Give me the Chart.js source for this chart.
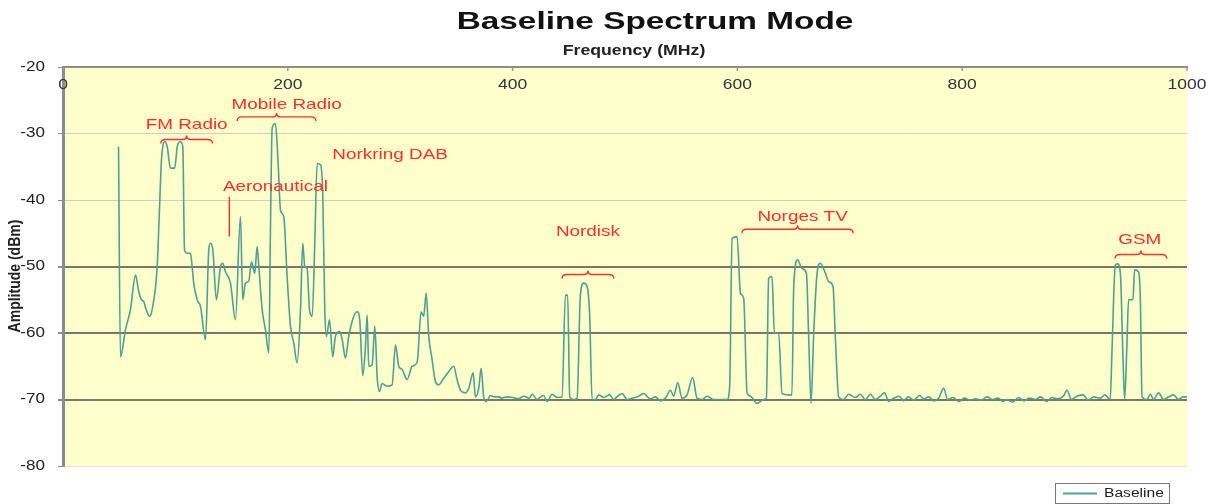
<!DOCTYPE html>
<html>
<head>
<meta charset="utf-8">
<title>Baseline Spectrum Mode</title>
<script src="https://cdn.jsdelivr.net/npm/chart.js@4.4.1/dist/chart.umd.min.js"></script>
<style>
  html, body { margin: 0; padding: 0; background: #fff; }
  #wrap { width: 1213px; height: 504px; }
</style>
</head>
<body>
<div id="wrap"><canvas id="spectrum" width="1213" height="504"></canvas></div>
<script>
// Baseline sweep
const freqMHz = [
    49.4, 51.1, 55.6, 60.0, 64.5, 67.4, 69.8, 71.9, 74.0, 77.2, 79.3, 83.8, 85.8, 87.6, 90.6, 92.7,
    95.6, 99.4, 101.6, 104.5, 106.6, 108.1, 110.5, 113.4, 114.9, 116.3, 119.4, 122.3, 126.8, 129.7,
    131.2, 133.3, 136.5, 140.1, 142.1, 144.5, 149.0, 153.4, 157.9, 159.9, 162.3, 165.3, 167.7, 170.6,
    172.7, 174.2, 177.2, 180.1, 183.1, 184.6, 186.1, 189.0, 191.4, 193.5, 196.4, 199.4, 202.4, 205.3,
    208.3, 211.3, 213.3, 215.1, 217.2, 219.3, 221.7, 224.0, 226.1, 229.0, 231.1, 232.9, 234.4, 237.1,
    240.0, 242.4, 246.2, 248.4, 251.3, 254.2, 258.7, 261.7, 264.0, 266.7, 269.1, 270.6, 272.0, 275.0,
    277.4, 279.5, 281.5, 283.9, 288.4, 292.8, 295.8, 298.7, 301.7, 306.2, 310.6, 315.1, 318.6, 320.9,
    323.1, 325.4, 328.4, 331.3, 334.3, 338.7, 343.2, 347.6, 350.6, 353.6, 358.0, 361.0, 364.9, 366.9,
    369.9, 372.0, 374.3, 376.7, 380.3, 383.2, 387.7,
    390, 395, 400, 405, 410, 415, 417.4, 421.8, 425, 427.7, 430.7, 435.2, 439.6, 444.0,
    447.0, 449.0, 450.8, 454.4, 457.4, 460.3, 463.3, 466.3, 468.6, 470.7, 473.7, 476.6, 481.0, 486.4,
    489.9, 493.5, 497.4, 501.9, 506.3, 511, 516.6, 522.6, 527, 531.5, 536, 540.4, 543.3, 546.9,
    550.8, 555.2, 560.2, 564.1, 568.6, 573.0, 578.9, 584.9, 590.8, 593.1, 595.3, 599.7, 602.7, 605.6,
    608.6, 611.6, 617.5, 623.4, 625.8, 627.8, 630.8, 632.9, 636.7, 639.7, 645.6, 648.5, 650.1, 653.6,
    657.5, 661.4, 663.4, 665.5, 667.9, 670.9, 673.8, 678.3, 681.2, 685.1, 687.1, 690.1, 694.5, 699.0,
    704.9, 709.4, 713.8, 718.3, 722.7, 727.2, 731, 734.6, 739, 744, 748, 752, 757, 762, 766, 770,
    775, 779, 783.5, 787, 792, 797, 802, 807, 812, 817, 822, 827, 832, 836, 840, 845, 850, 855, 860,
    865, 870, 875, 880, 885, 890, 893.3, 897, 902, 907.8, 912, 917, 922.8, 927, 931.7,
    933.3, 936.2, 938.3, 940.7, 943.1, 944.5, 946.6, 948.0, 951.9, 953.4, 956.9, 958.5, 960.0, 964.4,
    967.4, 970.3, 974.7, 979.2, 983.6, 988.1, 992.5, 996, 1000
];
const amplitudeDbm = [
    -32.0, -63.6, -59.5, -56.5, -51.3, -53.8, -55.0, -55.3, -56.5, -57.5, -56.5, -50.0, -41.5, -34.0, -31.2, -32.0,
    -35.2, -35.2, -32.0, -31.2, -32.0, -47.5, -48.0, -48.0, -50.0, -52.5, -55.0, -56.0, -61.0, -47.5,
    -46.5, -47.5, -55.0, -50.0, -49.5, -50.8, -52.5, -58.0, -42.5, -55.0, -52.5, -52.2, -49.3, -51.0,
    -47.0, -50.0, -56.5, -59.5, -63.0, -44.0, -29.2, -28.5, -34.5, -41.5, -42.5, -51.5, -59.0, -61.5,
    -64.5, -56.5, -46.5, -50.0, -50.3, -56.5, -57.5, -46.5, -34.5, -34.7, -39.0, -56.5, -60.5, -58.0,
    -63.6, -60.5, -59.8, -61.0, -63.8, -60.5, -57.5, -56.8, -58.0, -66.4, -62.0, -57.3, -65.0, -64.8,
    -59.0, -66.6, -68.8, -67.6, -68.0, -67.8, -61.8, -65.0, -65.5, -67.0, -65.0, -64.4, -56.8, -57.5,
    -54.0, -60.5, -64.0, -67.3, -67.8, -66.8, -65.8, -65.0, -67.0, -68.6, -69.0, -68.3, -66.0, -69.6,
    -68.3, -65.3, -69.6, -70.3, -69.4, -69.6, -69.6,
    -69.8, -69.6, -69.7, -69.9, -69.5, -69.8, -69.2, -70.0, -69.6, -69.4, -70.3, -69.2, -69.7, -69.6,
    -54.3, -54.3, -69.6, -70.0, -69.8, -54.3, -52.5, -53.0, -57.5, -70.0, -70.0, -69.3, -69.7, -69.3,
    -70.0, -69.5, -69.1, -70.0, -69.8, -69.6, -69.1, -69.9, -69.6, -70.2, -69.8, -68.6, -69.5, -67.5,
    -69.8, -69.3, -66.7, -69.8, -70.0, -69.5, -70.0, -70.0, -70.0, -68.1, -45.8, -45.5, -54.0, -54.8,
    -69.0, -69.5, -70.6, -70.0, -69.8, -51.8, -51.5, -60.0, -60.0, -69.1, -69.3, -69.3, -53.0, -49.0,
    -50.3, -51.0, -60.5, -70.6, -60.0, -51.0, -49.5, -51.0, -52.3, -53.0, -60.5, -69.6, -70.0, -69.2,
    -69.7, -69.2, -70.0, -69.2, -70.0, -69.5, -69.0, -70.3, -69.8, -69.5, -70.2, -69.6, -70.1, -69.4, -69.9, -69.6,
    -70.2, -69.8, -68.3, -70.0, -69.7, -70.3, -69.8, -70.1, -69.9, -70.1, -69.6, -70.0, -69.8, -70.3, -70.0, -70.4, -69.7, -70.2, -69.8,
    -70.0, -69.6, -70.3, -69.7, -69.9, -69.5, -68.6, -70.0, -69.5, -69.3, -70.1, -69.6, -69.8, -69.3, -70.0,
    -62.5, -49.8, -49.6, -51.0, -64.0, -70.0, -61.5, -55.0, -55.0, -50.5, -50.8, -55.0, -69.6, -70.0,
    -69.2, -70.0, -69.0, -70.0, -69.6, -69.3, -70.0, -69.6, -69.6
];

const freqTicks = [0, 200, 400, 600, 800, 1000];
const ampTicks = [-20, -30, -40, -50, -60, -70, -80];

// band notes in data units (MHz, dBm)
const bandLabels = [
    { text: 'FM Radio', f: 110, db: -28.7 },
    { text: 'Mobile Radio', f: 199, db: -25.7 },
    { text: 'Norkring DAB', f: 291, db: -33.2 },
    { text: 'Aeronautical', f: 189, db: -38.0 },
    { text: 'Nordisk', f: 467, db: -44.8 },
    { text: 'Norges TV', f: 658, db: -42.5 },
    { text: 'GSM', f: 958, db: -46.0 }
];
const bandBraces = [
    { from: 87, to: 133, db: -30.9 },
    { from: 155, to: 225, db: -27.5 },
    { from: 444, to: 490, db: -51.2 },
    { from: 604, to: 703, db: -44.4 },
    { from: 936, to: 982, db: -48.2 }
];
const aeroMarker = { f: 148, from: -39.5, to: -45.5 };

const FONT = '"Liberation Sans", Arial, sans-serif';
const RED = '#ff2e2e';

function wideText(ctx, text, x, y, sx, align) {
    ctx.save();
    ctx.translate(x, y);
    ctx.scale(sx, 1);
    ctx.textAlign = align || 'center';
    ctx.textBaseline = 'middle';
    ctx.fillText(text, 0, 0);
    ctx.restore();
}

function drawBrace(ctx, x1, x2, y) {
    const mid = (x1 + x2) / 2;
    ctx.beginPath();
    ctx.moveTo(x1, y + 4);
    ctx.quadraticCurveTo(x1, y, x1 + 5, y);
    ctx.lineTo(mid - 4, y);
    ctx.quadraticCurveTo(mid, y, mid, y - 4);
    ctx.quadraticCurveTo(mid, y, mid + 4, y);
    ctx.lineTo(x2 - 5, y);
    ctx.quadraticCurveTo(x2, y, x2, y + 4);
    ctx.stroke();
}

const sheetPlugin = {
    id: 'sheet',
    beforeDraw(chart) {
        const { ctx, chartArea: a } = chart;
        ctx.save();
        ctx.fillStyle = '#ffffcc';
        ctx.fillRect(a.left, a.top, a.right - a.left, a.bottom - a.top);
        ctx.restore();
    },
    afterDatasetsDraw(chart) {
        const { ctx, scales: { x, y } } = chart;
        ctx.save();
        ctx.fillStyle = RED;
        ctx.strokeStyle = RED;
        ctx.lineWidth = 1.4;
        ctx.font = '15px ' + FONT;
        bandLabels.forEach(l => wideText(ctx, l.text, x.getPixelForValue(l.f), y.getPixelForValue(l.db), 1.26));
        bandBraces.forEach(b => drawBrace(ctx, x.getPixelForValue(b.from), x.getPixelForValue(b.to), y.getPixelForValue(b.db)));
        const ax = x.getPixelForValue(aeroMarker.f);
        ctx.beginPath();
        ctx.moveTo(ax, y.getPixelForValue(aeroMarker.from));
        ctx.lineTo(ax, y.getPixelForValue(aeroMarker.to));
        ctx.stroke();
        ctx.restore();
    },
    afterDraw(chart) {
        const { ctx, chartArea: a, scales: { x, y } } = chart;
        ctx.save();
        // titles
        ctx.fillStyle = '#111';
        ctx.font = 'bold 24px ' + FONT;
        wideText(ctx, 'Baseline Spectrum Mode', 655, 22, 1.39);
        ctx.fillStyle = '#222';
        ctx.font = 'bold 15px ' + FONT;
        wideText(ctx, 'Frequency (MHz)', 634, 51, 1.18);

        // x tick labels sit inside the plot, under the top edge
        ctx.font = '14px ' + FONT;
        ctx.fillStyle = '#333';
        ctx.strokeStyle = '#999';
        ctx.lineWidth = 1.5;
        x.ticks.forEach(t => {
            const px = x.getPixelForValue(t.value);
            wideText(ctx, String(t.value), px, a.top + 18, 1.25);
            ctx.beginPath();
            ctx.moveTo(px, a.top);
            ctx.lineTo(px, a.top + 4);
            ctx.stroke();
        });

        // y tick labels
        ctx.fillStyle = '#222';
        y.ticks.forEach(t => {
            wideText(ctx, String(t.value), a.left - 18, y.getPixelForValue(t.value), 1.22, 'right');
        });

        // y title
        ctx.save();
        ctx.translate(15, 276);
        ctx.rotate(-Math.PI / 2);
        ctx.scale(1, 1.2);
        ctx.font = 'bold 14px ' + FONT;
        ctx.textAlign = 'center';
        ctx.textBaseline = 'middle';
        ctx.fillText('Amplitude (dBm)', 0, 0);
        ctx.restore();

        // legend box
        const ds = chart.data.datasets[0];
        ctx.strokeStyle = '#777';
        ctx.lineWidth = 1;
        ctx.strokeRect(1055.5, 483.5, 114, 20);
        ctx.strokeStyle = ds.borderColor;
        ctx.lineWidth = 2;
        ctx.beginPath();
        ctx.moveTo(1063, 493.5);
        ctx.lineTo(1097, 493.5);
        ctx.stroke();
        ctx.fillStyle = '#222';
        ctx.font = '12px ' + FONT;
        wideText(ctx, ds.label, 1104, 494, 1.3, 'left');
        ctx.restore();
    }
};

new Chart(document.getElementById('spectrum'), {
    type: 'line',
    data: {
        datasets: [{
            label: 'Baseline',
            data: freqMHz.map((f, i) => ({ x: f, y: amplitudeDbm[i] })),
            borderColor: '#4f9f95',
            borderWidth: 1.6,
            pointRadius: 0,
            fill: false,
            cubicInterpolationMode: 'monotone'
        }]
    },
    options: {
        responsive: false,
        animation: false,
        devicePixelRatio: 1,
        layout: { padding: { top: 0, left: 0, right: 26, bottom: 38 } },
        plugins: {
            legend: { display: false },
            title: { display: false },
            tooltip: { enabled: false }
        },
        scales: {
            x: {
                type: 'linear',
                position: 'top',
                min: 0,
                max: 1000,
                afterBuildTicks: s => { s.ticks = freqTicks.map(v => ({ value: v })); },
                afterFit: s => { s.height = 67; },
                ticks: { display: false },
                grid: { display: true, drawOnChartArea: false, drawTicks: false, color: 'transparent' },
                border: { display: true, color: '#8c8c8c', width: 2 }
            },
            y: {
                type: 'linear',
                min: -80,
                max: -20,
                afterBuildTicks: s => { s.ticks = ampTicks.map(v => ({ value: v })); },
                afterFit: s => { s.width = 63; },
                ticks: { display: false },
                grid: {
                    color: c => {
                        const v = c.tick ? c.tick.value : 0;
                        if (v === -20) return 'transparent';
                        if (v === -80) return '#e4e4d4';
                        if (v >= -40) return '#cfcfbb';
                        return '#77776b';
                    },
                    lineWidth: c => {
                        const v = c.tick ? c.tick.value : 0;
                        return (v <= -50 && v > -80) ? 2 : 1;
                    },
                    drawTicks: true,
                    tickLength: 5,
                    tickColor: '#8c8c8c'
                },
                border: { color: '#8c8c8c', width: 3 }
            }
        }
    },
    plugins: [sheetPlugin]
});
</script>
</body>
</html>
